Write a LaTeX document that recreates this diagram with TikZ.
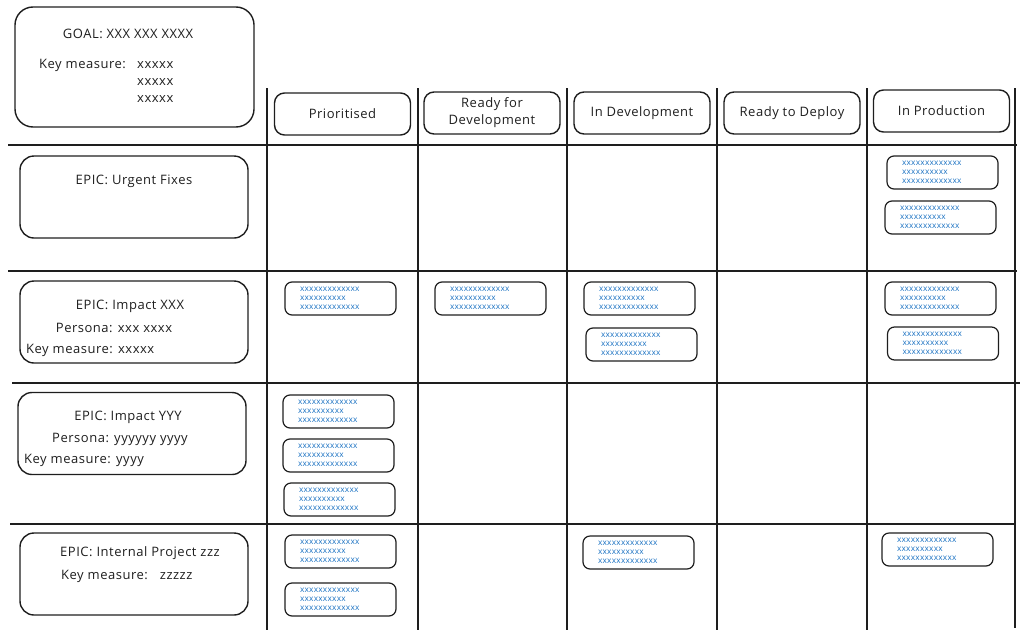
\documentclass[tikz,border=0pt]{standalone}
\usepackage{fontspec}
\setmainfont{Open Sans}[LetterSpace=4]
\newfontfamily\cardfont{Open Sans}[LetterSpace=3]
\definecolor{cardblue}{HTML}{1971C2}
\definecolor{ink}{HTML}{1E1E1E}
\begin{document}
\begin{tikzpicture}[x=1pt,y=-1pt,
 gridline/.style={line width=1.9pt, draw=ink},
 box/.style={draw=ink, line width=1.4pt, rounded corners=10pt, rectangle},
 goalbox/.style={box, rounded corners=18pt, minimum width=239pt, minimum height=120pt, inner sep=0pt},
 epicbox/.style={box, rounded corners=14pt, minimum width=228pt, minimum height=82pt, inner sep=0pt},
 colhead/.style={box, minimum width=136pt, minimum height=42pt, align=center, font=\fontsize{13}{16}\selectfont, inner sep=0pt, text=ink},
 card/.style={box, line width=1.2pt, rounded corners=7pt, minimum width=111pt, minimum height=33pt, text width=81pt, align=left, inner xsep=15pt, inner ysep=0pt, font=\cardfont\fontsize{8.3}{9}\selectfont, text=cardblue},
 lbl/.style={font=\fontsize{13}{14}\selectfont, inner sep=0pt, text=ink}
]
\newcommand{\cardtxt}{xxxxxxxxxxxxx\\xxxxxxxxxx\\xxxxxxxxxxxxx}
\path[use as bounding box] (0,0) rectangle (1024,637);

% grid
\foreach \x in {267,418,567,717,867}{\draw[gridline] (\x,88) -- (\x,630);}
\draw[gridline] (1015,88) -- (1015,628);
\draw[gridline] (8,145) -- (1017,145);
\draw[gridline] (8,271) -- (1017,271);
\draw[gridline] (12,383) -- (1020,383);
\draw[gridline] (10,524) -- (1015,524);

% goal
\node[goalbox] (goal) at (134.5,67) {};
\node[lbl] (goaltitle) at (128,34) {GOAL: XXX XXX XXXX};
\node[lbl, anchor=west] (goalkm) at (39,65) {Key measure:};
\node[lbl, anchor=west] (goalv1) at (137,65) {xxxxx};
\node[lbl, anchor=west] (goalv2) at (137,82) {xxxxx};
\node[lbl, anchor=west] (goalv3) at (137,99) {xxxxx};

% column headers
\node[colhead] (hprio) at (342.5,114) {Prioritised};
\node[colhead, font=\fontsize{13}{17}\selectfont] (hready) at (492,113) {Ready for\\Development};
\node[colhead] (hdev) at (642,113) {In Development};
\node[colhead] (hdeploy) at (792,113) {Ready to Deploy};
\node[colhead] (hprod) at (941.5,111) {In Production};

% epics
\node[epicbox] (e1) at (134,197) {};
\node[lbl] (e1t) at (134,181) {EPIC: Urgent Fixes};

\node[epicbox] (e2) at (134,322) {};
\node[lbl] (e2t) at (130,306) {EPIC: Impact XXX};
\node[lbl] (e2p) at (114,328) {Persona: xxx xxxx};
\node[lbl, anchor=west] (e2k) at (26,350) {Key measure: xxxxx};

\node[epicbox] (e3) at (132,433.5) {};
\node[lbl] (e3t) at (128,417) {EPIC: Impact YYY};
\node[lbl] (e3p) at (120,439) {Persona: yyyyyy yyyy};
\node[lbl, anchor=west] (e3k) at (24,460) {Key measure: yyyy};

\node[epicbox] (e4) at (134,574) {};
\node[lbl] (e4t) at (140,553) {EPIC: Internal Project zzz};
\node[lbl, anchor=west] (e4k) at (61,576) {Key measure:\hspace{12pt}zzzzz};

% cards
\node[card] (p1) at (340.5,298.5) {\cardtxt};
\node[card] (p2) at (338.5,411.5) {\cardtxt};
\node[card] (p3) at (338.5,455.5) {\cardtxt};
\node[card] (p4) at (339.5,499.5) {\cardtxt};
\node[card] (p5) at (340.5,551.5) {\cardtxt};
\node[card] (p6) at (340.5,599.5) {\cardtxt};
\node[card] (r1) at (490.5,298.5) {\cardtxt};
\node[card] (d1) at (639.5,298.5) {\cardtxt};
\node[card] (d2) at (641.5,344.5) {\cardtxt};
\node[card] (d3) at (638.5,552.5) {\cardtxt};
\node[card] (q1) at (942.5,172.5) {\cardtxt};
\node[card] (q2) at (940.5,217.5) {\cardtxt};
\node[card] (q3) at (940.5,298.5) {\cardtxt};
\node[card] (q4) at (943,343.5) {\cardtxt};
\node[card] (q5) at (937.5,549.5) {\cardtxt};
\end{tikzpicture}
\end{document}
